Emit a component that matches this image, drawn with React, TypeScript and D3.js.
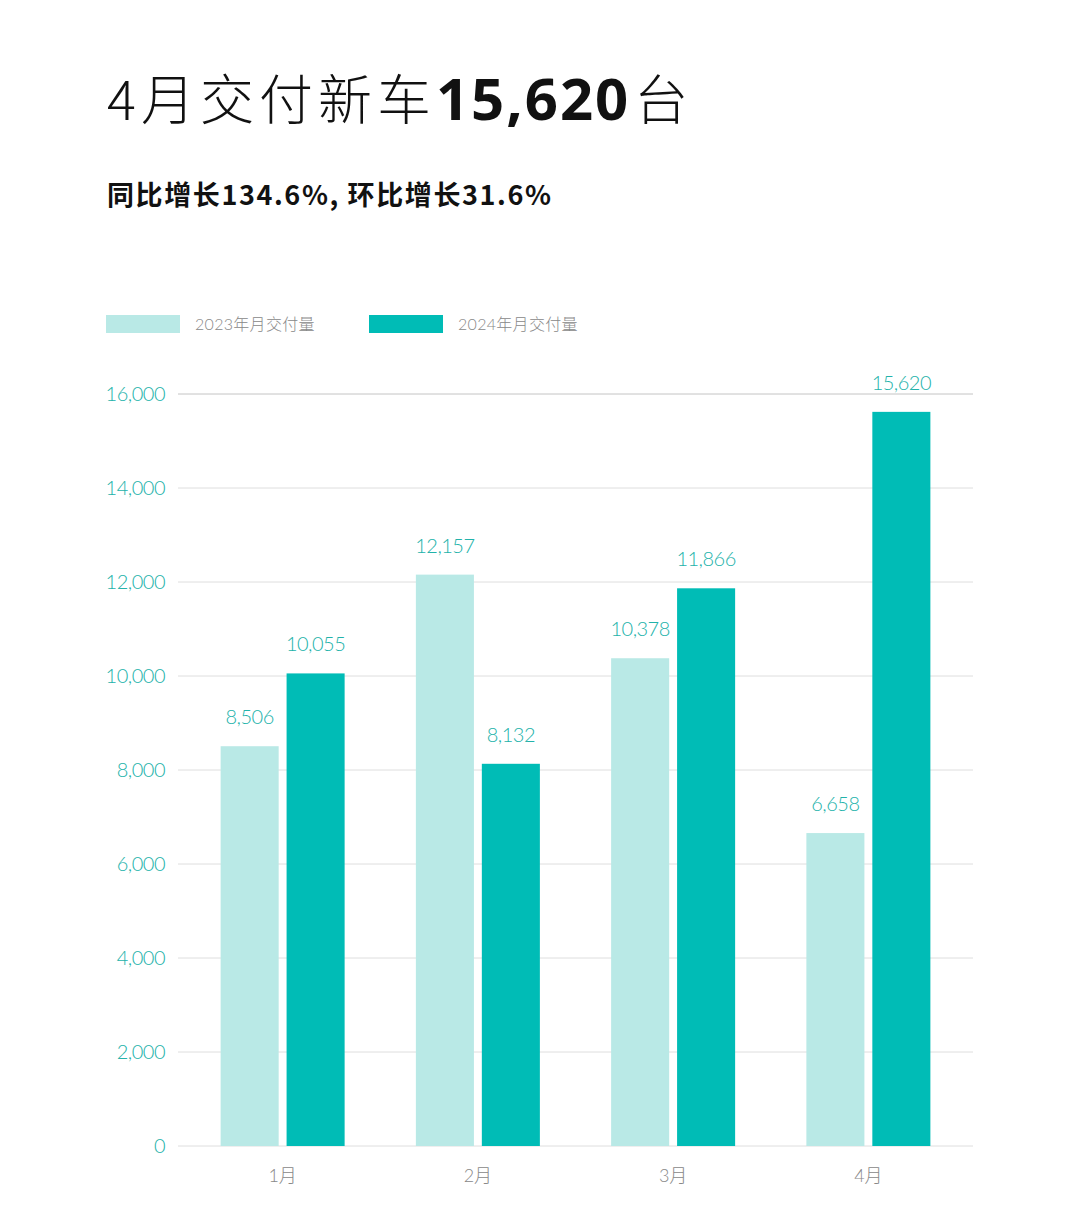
import React, { useRef, useEffect } from 'react';
import * as d3 from 'd3';

const months = ['1月', '2月', '3月', '4月'];
const series2023 = [8506, 12157, 10378, 6658];
const series2024 = [10055, 8132, 11866, 15620];
const seriesNames = ['2023年月交付量', '2024年月交付量'];
const yTicks = [0, 2000, 4000, 6000, 8000, 10000, 12000, 14000, 16000];

const WIDTH = 1080;
const HEIGHT = 1227;
const LIGHT = '#b9e9e6';
const DARK = '#00bcb6';
const LABEL = '#22b2aa';
const FONT = 'Lato, "Noto Sans CJK SC", sans-serif';

const App: React.FC = () => {
  const svgRef = useRef<SVGSVGElement>(null);

  useEffect(() => {
    if (!svgRef.current) return;
    const svg = d3.select(svgRef.current);
    svg.selectAll('*').remove();

    // Title
    const title = svg
      .append('text')
      .attr('x', 107)
      .attr('y', 120)
      .attr('font-size', 54)
      .attr('fill', '#111')
      .attr('font-family', '"Noto Sans CJK SC", sans-serif');
    title.append('tspan').attr('font-weight', 300).attr('letter-spacing', 5).text('4月交付新车');
    title
      .append('tspan')
      .attr('font-weight', 700)
      .attr('font-family', '"Noto Sans", "Open Sans", sans-serif')
      .attr('font-size', 58)
      .attr('letter-spacing', 2)
      .text('15,620');
    title.append('tspan').attr('font-weight', 300).attr('dx', 4).text('台');

    svg
      .append('text')
      .attr('x', 107)
      .attr('y', 205)
      .attr('font-size', 27)
      .attr('font-weight', 700)
      .attr('letter-spacing', 1.6)
      .attr('fill', '#111')
      .attr('font-family', '"Noto Sans CJK SC", sans-serif')
      .text('同比增长134.6%, 环比增长31.6%');

    // Legend
    const legendItems = [
      { label: seriesNames[0], color: LIGHT, x: 106 },
      { label: seriesNames[1], color: DARK, x: 369 },
    ];
    legendItems.forEach((item) => {
      svg
        .append('rect')
        .attr('x', item.x)
        .attr('y', 315)
        .attr('width', 74)
        .attr('height', 18)
        .attr('fill', item.color);
      svg
        .append('text')
        .attr('x', item.x + 89)
        .attr('y', 330)
        .attr('font-size', 16)
        .attr('font-weight', 300)
        .attr('letter-spacing', 0.3)
        .attr('fill', '#888')
        .attr('font-family', FONT)
        .text(item.label);
    });

    // Scales
    const y = d3.scaleLinear().domain([0, 16000]).range([1146, 394]);
    const x0 = d3.scaleBand<string>().domain(months).range([185, 966]).paddingInner(0).paddingOuter(0);
    const x1 = d3
      .scaleBand<string>()
      .domain(['a', 'b'])
      .range([x0.bandwidth() / 2 - 62, x0.bandwidth() / 2 + 62])
      .paddingInner(0.12)
      .paddingOuter(0);

    // Grid
    svg
      .append('g')
      .selectAll('line')
      .data(yTicks)
      .join('line')
      .attr('x1', 178)
      .attr('x2', 973)
      .attr('y1', (d) => y(d))
      .attr('y2', (d) => y(d))
      .attr('stroke', (d) => (d === 16000 ? '#c4c4c4' : '#dedede'))
      .attr('stroke-width', 1);

    // Y tick labels
    svg
      .append('g')
      .selectAll('text')
      .data(yTicks)
      .join('text')
      .attr('x', 165)
      .attr('y', (d) => y(d))
      .attr('dy', '0.35em')
      .attr('text-anchor', 'end')
      .attr('font-size', 20)
      .attr('font-weight', 300)
      .attr('letter-spacing', -0.5)
      .attr('fill', LABEL)
      .attr('font-family', FONT)
      .text((d) => d3.format(',')(d));

    // Bars
    const groups = svg
      .append('g')
      .selectAll('g')
      .data(months)
      .join('g')
      .attr('transform', (d) => `translate(${x0(d)},0)`);

    const pairs = (i: number) => [
      { key: 'a', value: series2023[i], color: LIGHT },
      { key: 'b', value: series2024[i], color: DARK },
    ];

    groups.each(function (_, i) {
      const g = d3.select(this);
      const data = pairs(i);
      g.selectAll('rect')
        .data(data)
        .join('rect')
        .attr('x', (d) => x1(d.key)!)
        .attr('width', x1.bandwidth())
        .attr('y', (d) => y(d.value))
        .attr('height', (d) => y(0) - y(d.value))
        .attr('fill', (d) => d.color);
      g.selectAll('text.val')
        .data(data)
        .join('text')
        .attr('class', 'val')
        .attr('x', (d) => x1(d.key)! + x1.bandwidth() / 2)
        .attr('y', (d) => y(d.value) - 22)
        .attr('text-anchor', 'middle')
        .attr('font-size', 20)
        .attr('font-weight', 300)
        .attr('letter-spacing', -0.5)
        .attr('fill', LABEL)
        .attr('font-family', FONT)
        .text((d) => d3.format(',')(d.value));
    });

    // X labels
    svg
      .append('g')
      .selectAll('text')
      .data(months)
      .join('text')
      .attr('x', (d) => x0(d)! + x0.bandwidth() / 2)
      .attr('y', 1182)
      .attr('text-anchor', 'middle')
      .attr('font-size', 18)
      .attr('font-weight', 300)
      .attr('fill', '#888')
      .attr('font-family', FONT)
      .text((d) => d);
  }, []);

  return (
    <svg
      ref={svgRef}
      width={WIDTH}
      height={HEIGHT}
      style={{ display: 'block', margin: -8, background: '#fff' }}
    />
  );
};

export default App;
